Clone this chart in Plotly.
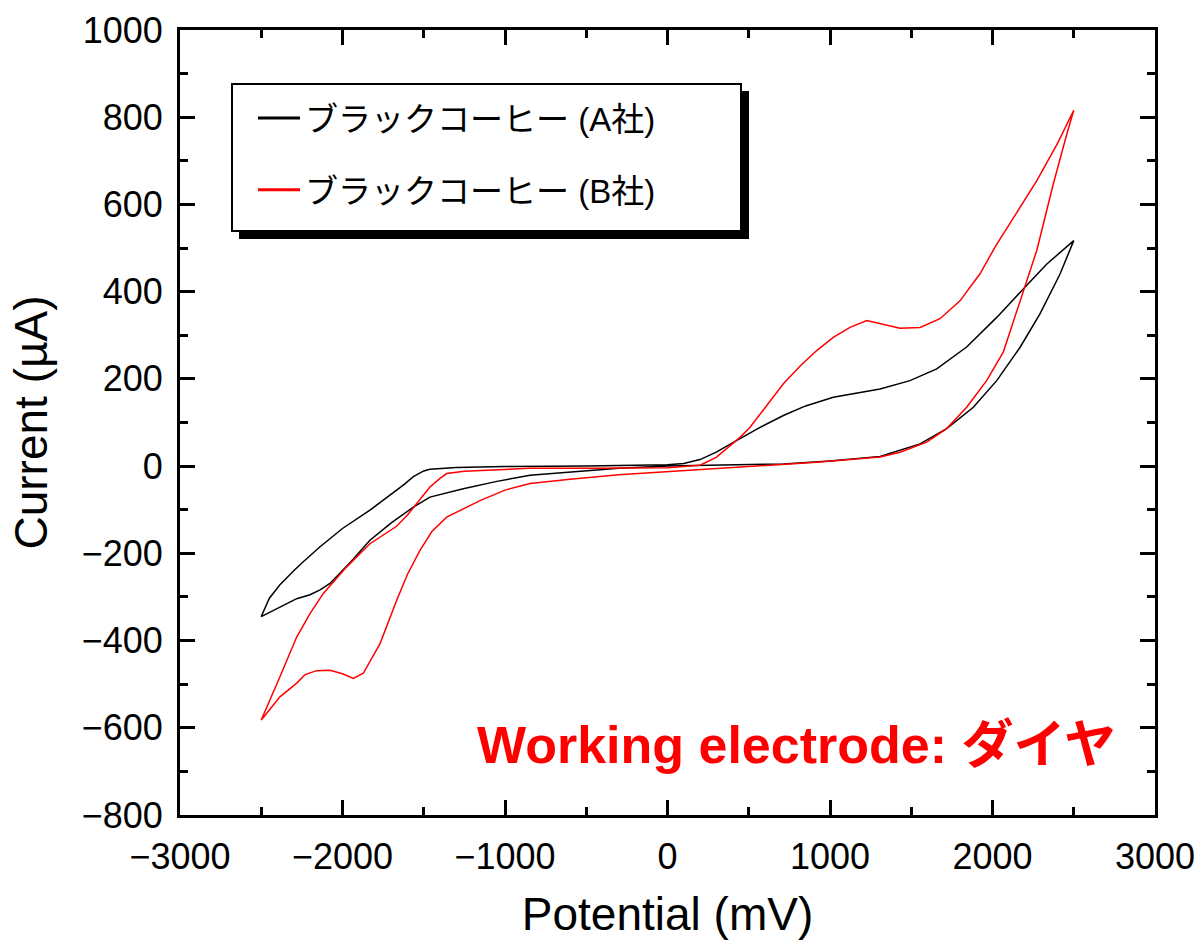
import plotly.graph_objects as go

# ---- data ----
# Company A (black): one closed CV loop, potential in mV, current in uA
a_potential = [0, 100, 200, 300, 446, 550, 713, 850, 1020, 1150, 1308, 1492, 1657, 1841, 2026, 2169, 2333, 2500,
               2415, 2292, 2169, 2026, 1882, 1718, 1554, 1308, 1000, 713, 400, 0,
               -300, -600, -846, -1050, -1257, -1462, -1564, -1700, -1831, -1950, -2077, -2138, -2200, -2282,
               -2385, -2450, -2500,
               -2450, -2385, -2300, -2250, -2138, -2000, -1831, -1700, -1620, -1564, -1500, -1462, -1300, -1000,
               -500, 0]
a_current = [3, 6, 15, 32, 63, 85, 116, 138, 158, 167, 177, 196, 223, 273, 341, 398, 463, 517,
             440, 349, 272, 196, 135, 86, 51, 22, 12, 5, 3, 0,
             -5, -13, -21, -35, -52, -71, -94, -130, -170, -220, -269, -284, -295, -304,
             -323, -335, -345,
             -303, -272, -240, -222, -185, -143, -101, -65, -42, -24, -11, -7, -3, -1,
             0, 3]

# Company B (red)
b_potential = [0, 200, 300, 446, 508, 600, 713, 818, 918, 1020, 1123, 1226, 1308, 1431, 1554, 1677, 1800, 1923,
               2020, 2128, 2272, 2400, 2500,
               2457, 2374, 2272, 2169, 2067, 1964, 1841, 1718, 1595, 1431, 1308, 918, 508, 0,
               -300, -600, -846, -1000, -1154, -1359, -1450, -1523, -1600, -1667, -1769, -1872, -1933, -2000,
               -2077, -2159, -2230, -2280, -2385, -2500,
               -2440, -2385, -2282, -2200, -2118, -1974, -1831, -1750, -1667, -1600, -1544, -1462, -1400, -1359,
               -1250, -1154, -846, -500, 0]
b_current = [-4, 2, 20, 66, 89, 135, 189, 230, 265, 295, 318, 334, 327, 316, 318, 338, 379, 441,
             505, 570, 654, 740, 816,
             761, 647, 494, 379, 262, 196, 135, 86, 55, 32, 21, 9, -1, -12,
             -20, -30, -40, -55, -79, -117, -150, -193, -248, -308, -407, -475, -487, -476,
             -468, -469, -478, -497, -529, -582,
             -532, -483, -392, -338, -292, -231, -178, -158, -138, -112, -86, -48, -28, -17,
             -12, -10, -5, -5, -4]

series_names = ["ブラックコーヒー (A社)", "ブラックコーヒー (B社)"]
series_colors = ["#000000", "#ff0000"]

x_title = "Potential (mV)"
y_title = "Current (µA)"
note_text = "Working electrode: ダイヤ"

FONT = "Liberation Sans, Arial, Noto Sans CJK JP, sans-serif"

fig = go.Figure()
# measured curves (legend handled by the key entries below)
fig.add_trace(go.Scatter(x=a_potential, y=a_current, mode="lines", name=series_names[0],
                         showlegend=False, line=dict(color=series_colors[0], width=1.5)))
fig.add_trace(go.Scatter(x=b_potential, y=b_current, mode="lines", name=series_names[1],
                         showlegend=False, line=dict(color=series_colors[1], width=1.5)))
# legend keys with the thicker sample line of the reference
for i, (nm, col) in enumerate(zip(series_names, series_colors)):
    fig.add_trace(go.Scatter(x=[None], y=[None], mode="lines", name=nm, legendgroup=f"g{i}",
                             line=dict(color=col, width=3)))

W, H = 1201, 944
ML, MR, MT, MB = 180, 46, 30, 129
PW, PH = W - ML - MR, H - MT - MB


def px(xp):
    return (xp - ML) / PW


def py(yp):
    return (H - MB - yp) / PH


axis_common = dict(
    showline=True, linewidth=3, linecolor="black", mirror="allticks",
    ticks="inside", ticklen=15, tickwidth=2.5, tickcolor="black",
    showgrid=False, zeroline=False,
    tickfont=dict(family=FONT, size=36, color="black"),
)

fig.update_xaxes(range=[-3000, 3000], tick0=0, dtick=1000, ticklabelstandoff=8,
                 minor=dict(dtick=500, ticks="inside", ticklen=8, tickwidth=2.5, tickcolor="black"),
                 title=dict(text=x_title, font=dict(family=FONT, size=46, color="black"), standoff=22),
                 **axis_common)
fig.update_yaxes(range=[-800, 1000], tick0=0, dtick=200, ticklabelstandoff=7,
                 minor=dict(dtick=100, ticks="inside", ticklen=8, tickwidth=2.5, tickcolor="black"),
                 title=dict(text=y_title, font=dict(family=FONT, size=46, color="black"), standoff=20),
                 **axis_common)

# legend frame with drop shadow
fig.add_shape(type="rect", xref="paper", yref="paper",
              x0=px(239), x1=px(749), y0=py(239), y1=py(91),
              fillcolor="black", line=dict(color="black", width=0), layer="above")
fig.add_shape(type="rect", xref="paper", yref="paper",
              x0=px(232), x1=px(741), y0=py(231), y1=py(84),
              fillcolor="white", line=dict(color="black", width=2), layer="above")

fig.add_annotation(text=note_text, xref="paper", yref="paper",
                   x=px(1118), y=py(745), xanchor="right", yanchor="middle", showarrow=False,
                   font=dict(family=FONT, size=52, color="#ff0000", weight="bold"))

fig.update_layout(
    width=W, height=H,
    margin=dict(l=ML, r=MR, t=MT, b=MB, autoexpand=False),
    paper_bgcolor="white", plot_bgcolor="white",
    showlegend=True,
    legend=dict(x=px(253), y=py(90), xanchor="left", yanchor="top",
                bgcolor="rgba(0,0,0,0)", borderwidth=0,
                font=dict(family=FONT, size=33, color="black"),
                traceorder="grouped", tracegroupgap=26, itemwidth=42),
    font=dict(family=FONT, color="black"),
)

fig.write_html("out.html")
